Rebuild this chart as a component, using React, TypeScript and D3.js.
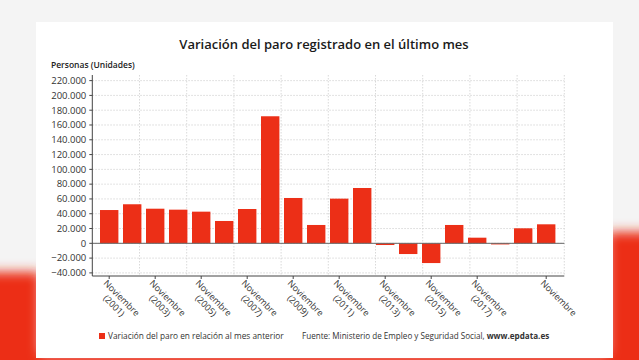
import React from "react";
import * as d3 from "d3";

const years = [2001, 2002, 2003, 2004, 2005, 2006, 2007, 2008, 2009, 2010, 2011, 2012, 2013, 2014, 2015, 2016, 2017, 2018, 2019, 2020];
const values = [45000, 52800, 46800, 45500, 42800, 30200, 46400, 171800, 61300, 24800, 60400, 74800, -2300, -14500, -26700, 24800, 7600, -1500, 20300, 25700];
const tickYears = [2001, 2003, 2005, 2007, 2009, 2011, 2013, 2015, 2017, 2020];
const tickLabels = ["(2001)", "(2003)", "(2005)", "(2007)", "(2009)", "(2011)", "(2013)", "(2015)", "(2017)", ""];
const yTicks = [-40000, -20000, 0, 20000, 40000, 60000, 80000, 100000, 120000, 140000, 160000, 180000, 200000, 220000];

const W = 639;
const H = 360;
const plotL = 92.3;
const plotR = 564.3;
const plotT = 75;
const plotB = 276;
const RED = "#ec2f17";
const FONT = "'Open Sans', sans-serif";

export default function App() {
  const x = d3.scaleBand<number>().domain(years).range([97.7, 557.7]).paddingInner(0.2).paddingOuter(0.1);
  const y = d3.scaleLinear().domain([-44200, 227600]).range([plotB, plotT]);
  const gx = d3.scaleLinear().domain([0, 10]).range([plotL, plotR]);
  const fmt = (v: number) => d3.format(",")(v).replace(/,/g, ".");

  return (
    <svg width={W} height={H} style={{ position: "absolute", left: 0, top: 0 }} fontFamily={FONT}>
      <defs>
        <filter id="blur" x="-50%" y="-50%" width="200%" height="200%">
          <feGaussianBlur stdDeviation="6" />
        </filter>
      </defs>
      <rect x={0} y={0} width={W} height={H} fill="#f4f4f4" />
      <g filter="url(#blur)">
        <rect x={-20} y={272} width={60} height={110} fill={RED} />
        <rect x={608} y={232} width={50} height={150} fill={RED} />
        <rect x={-20} y={354} width={680} height={20} fill={RED} />
      </g>
      <rect x={36} y={22} width={577} height={336} fill="#ffffff" />

      <text x={324} y={48.5} textAnchor="middle" fontSize={13} fontWeight={600} fill="#1a1a1a">
        Variación del paro registrado en el último mes
      </text>
      <text x={51} y={68} fontSize={8.5} fontWeight={600} fill="#222">
        Personas (Unidades)
      </text>

      {yTicks.map((t) => (
        <line key={"h" + t} x1={plotL} x2={plotR} y1={y(t)} y2={y(t)} stroke="#cfcfcf" strokeWidth={0.8} strokeDasharray="1.5,1.5" />
      ))}
      {d3.range(1, 11).map((i) => (
        <line key={"v" + i} x1={gx(i)} x2={gx(i)} y1={plotT} y2={plotB} stroke="#cfcfcf" strokeWidth={0.8} strokeDasharray="1.5,1.5" />
      ))}

      {years.map((yr, i) => {
        const v = values[i];
        const y0 = y(Math.max(0, v));
        const y1 = y(Math.min(0, v));
        return <rect key={yr} x={x(yr)} y={y0} width={x.bandwidth()} height={y1 - y0} fill={RED} />;
      })}

      <line x1={plotL} x2={plotR} y1={y(0)} y2={y(0)} stroke="#666" strokeWidth={1} />

      <line x1={plotL} x2={plotL} y1={plotT} y2={plotB} stroke="#444" strokeWidth={1} />
      {yTicks.map((t) => (
        <g key={"yt" + t}>
          <line x1={plotL - 3} x2={plotL} y1={y(t)} y2={y(t)} stroke="#444" strokeWidth={1} />
          <text x={plotL - 6} y={y(t)} dy="0.35em" textAnchor="end" fontSize={9.5} fill="#333">
            {fmt(t)}
          </text>
        </g>
      ))}

      <line x1={plotL} x2={plotR} y1={plotB} y2={plotB} stroke="#444" strokeWidth={1} />
      {tickYears.map((yr, i) => {
        const cx = (x(yr) as number) + x.bandwidth() / 2;
        return (
          <g key={"xt" + yr}>
            <line x1={cx} x2={cx} y1={plotB} y2={plotB + 3} stroke="#444" strokeWidth={1} />
            <g transform={`translate(${cx - 6},${plotB + 8}) rotate(45)`}>
              <text x={23} textAnchor="middle" fontSize={9} fill="#333">
                <tspan x={23} dy="0">Noviembre</tspan>
                {tickLabels[i] ? <tspan x={23} dy="1.2em">{tickLabels[i]}</tspan> : null}
              </text>
            </g>
          </g>
        );
      })}

      <rect x={99} y={333} width={6} height={6} fill={RED} />
      <text x={108} y={339} fontSize={8.3} fill="#333">
        Variación del paro en relación al mes anterior
      </text>
      <text x={302} y={339} fontSize={8.1} fill="#333">
        Fuente: Ministerio de Empleo y Seguridad Social, <tspan fontWeight={700}>www.epdata.es</tspan>
      </text>
    </svg>
  );
}
